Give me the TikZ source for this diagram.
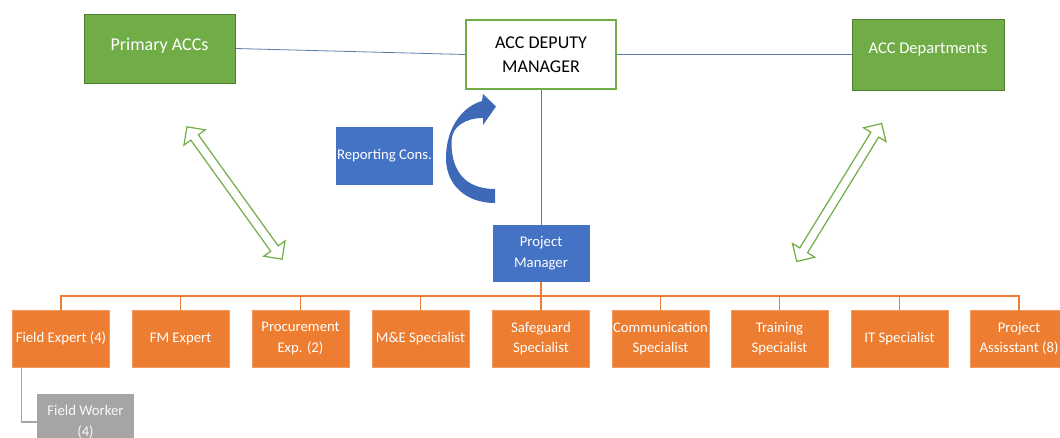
\documentclass[tikz,border=0pt]{standalone}
\usepackage{fontspec}
\setmainfont{Carlito}
\usetikzlibrary{shapes.arrows,calc}

\definecolor{accgreen}{HTML}{70AD47}
\definecolor{accgreendark}{HTML}{507E32}
\definecolor{accblue}{HTML}{4472C4}
\definecolor{accbluedark}{HTML}{2F5597}
\definecolor{accorange}{HTML}{ED7D31}
\definecolor{accorangeedge}{HTML}{F29A5E}
\definecolor{accgray}{HTML}{A5A5A5}
\definecolor{linkblue}{HTML}{5B7DAA}

\tikzset{
  box/.style={rectangle, inner sep=0pt, align=center, text=white,
              minimum width=97pt, minimum height=57pt},
  bigtext/.style={font=\fontsize{18}{24}\selectfont},
  midtext/.style={font=\fontsize{16.5}{22}\selectfont},
  smalltext/.style={font=\fontsize{14.75}{20.7}\selectfont},
  greenbox/.style={box, bigtext, fill=accgreen, draw=accgreendark, line width=1pt},
  headbox/.style={box, bigtext, text=black, fill=white, draw=accgreen, line width=1.6pt},
  bluebox/.style={box, smalltext, fill=accblue},
  staffbox/.style={box, smalltext, fill=accorange, draw=accorangeedge, line width=0.6pt},
  graybox/.style={box, smalltext, fill=accgray, text=white!92!accgray},
  link/.style={draw=linkblue, line width=0.8pt},
  treeline/.style={draw=accorange, line width=1.6pt},
  subline/.style={draw=accgray, line width=1.4pt},
  hollowarrow/.style={double arrow, draw=accgreen, fill=white, line width=1.2pt,
              inner xsep=0pt, inner ysep=4pt, double arrow head extend=8.5pt}
}

\begin{document}
\begin{tikzpicture}[x=1pt, y=-1pt]
  % page area
  \fill[white] (0,0) rectangle (1060,437);
  \clip (0,0) rectangle (1060,437);

  % top level
  \node[greenbox, minimum width=151pt, minimum height=69pt] (prim) at (159.5,48.5) {\raisebox{9pt}{Primary ACCs}};
  \node[headbox, minimum width=150pt, minimum height=69pt] (dep) at (541,54.5) {ACC DEPUTY\\MANAGER};
  \node[greenbox, midtext, minimum width=152pt, minimum height=71pt] (dept) at (928,54.5) {\raisebox{13pt}{ACC Departments}};

  \draw[link] (prim.east) -- (dep.west);
  \draw[link] (dep.east) -- (dept.west);

  % reporting consultant and its curved arrow
  \node[bluebox, minimum height=58pt] (rep) at (384.5,156) {Reporting Cons.};
  \fill[accblue!70!accbluedark]
    (495,203) .. controls (466,203) and (446,185) .. (446,158)
              .. controls (446,126) and (464,106) .. (482,101)
    -- (483,94) -- (496,106.5) -- (483,125) -- (483,118)
              .. controls (466,118) and (452,126) .. (451.5,141)
              .. controls (451,172) and (466,189) .. (495,189)
    -- cycle;

  % project manager
  \node[bluebox] (pm) at (541,253.5) {Project\\Manager};
  \draw[link] (dep.south) -- (pm.north);

  % staff row
  \node[staffbox] (fe) at (61,338.5)    {Field Expert (4)};
  \node[staffbox] (fm) at (180.5,338.5) {FM Expert};
  \node[staffbox] (pr) at (300.5,338.5) {Procurement\\Exp. (2)};
  \node[staffbox] (me) at (420.5,338.5) {M\&E Specialist};
  \node[staffbox] (sg) at (541,338.5)   {Safeguard\\Specialist};
  \node[staffbox] (cm) at (660.5,338.5) {Communication\\Specialist};
  \node[staffbox] (tr) at (779.5,338.5) {Training\\Specialist};
  \node[staffbox] (it) at (899.5,338.5) {IT Specialist};
  \node[staffbox] (pa) at (1019,338.5)  {Project\\Assisstant (8)};

  \foreach \n in {fe,fm,pr,me,sg,cm,tr,it,pa}
    \draw[treeline] (pm.south) -- ++(0,14) -| (\n.north);

  % field workers under the field expert
  \node[graybox] (fw) at (85.5,422) {Field Worker\\(4)};
  \draw[subline] ([xshift=9pt]fe.south west) |- (fw.west);

  % two-way links to the side units
  \coordinate (la) at (187,127);
  \coordinate (lb) at (282,259);
  \node[hollowarrow, minimum height=163pt, rotate=-54.3] (larrow) at ($(la)!0.5!(lb)$) {};
  \coordinate (ra) at (881.7,123.3);
  \coordinate (rb) at (796.7,261.7);
  \node[hollowarrow, minimum height=162pt, rotate=58.4] (rarrow) at ($(ra)!0.5!(rb)$) {};
\end{tikzpicture}
\end{document}
